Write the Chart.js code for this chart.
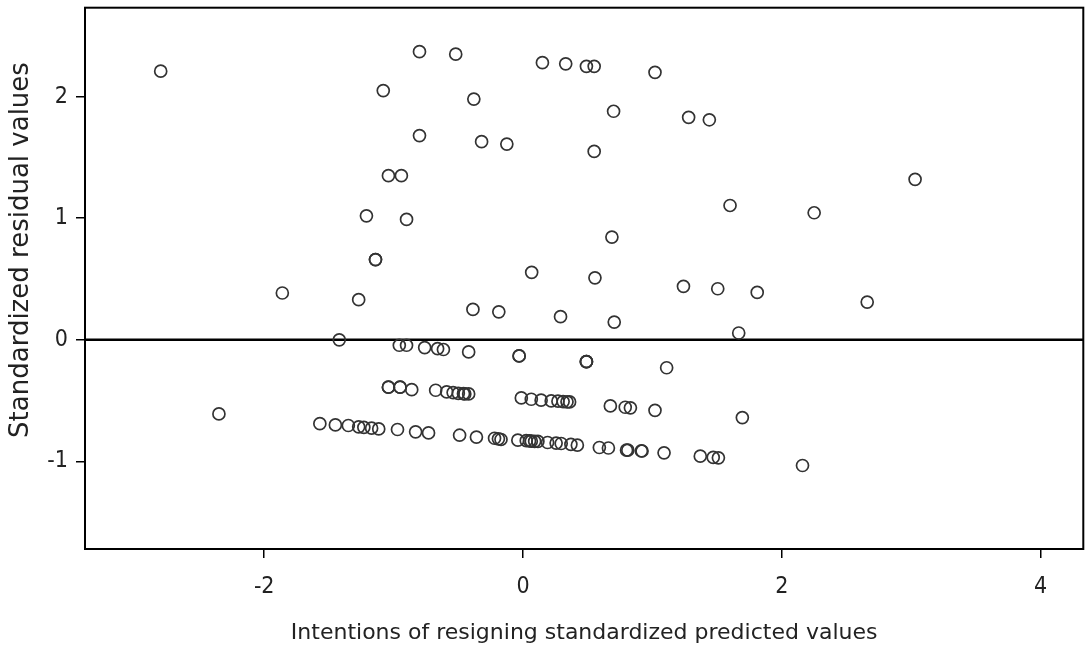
<!DOCTYPE html>
<html>
<head>
<meta charset="utf-8">
<script src="https://cdn.jsdelivr.net/npm/chart.js@4"></script>
<style>
  body { margin: 0; background: #fff; }
  #wrap { width: 1091px; height: 651px; }
</style>
</head>
<body>
<div id="wrap"><canvas id="scatter" width="1091" height="651"></canvas></div>
<script>
// Data
const predicted = [
  -2.80, -1.08, -0.80, -0.52, 0.15, 0.33, 0.49, 0.55, 1.02,
  -0.38, 0.70, 1.28, 1.44, -0.80, -0.32, -0.125, 0.55,
  -1.04, -0.94, 3.03, 1.60, 2.25, -1.21, -0.90, 0.687,
  -1.14, -1.14, 0.067, 0.556, 1.24, 1.505, 1.81, -1.86, -1.27, 2.66,
  -0.387, -0.187, 0.29, 0.705, 1.667, -1.42,
  -0.956, -0.90, -0.76, -0.66, -0.615, -0.42, -0.03, -0.03, 0.49, 0.49, 0.49, 1.11,
  -1.04, -1.04, -0.95, -0.95, -0.86,
  -0.675, -0.59, -0.54, -0.50, -0.46, -0.45, -0.42,
  -0.013, 0.064, 0.14, 0.218, 0.27, 0.31, 0.34, 0.36,
  0.675, 0.79, 0.83, 1.02, 1.695, -2.35,
  -1.57, -1.45, -1.35, -1.27, -1.23, -1.17, -1.115, -0.97, -0.83, -0.73,
  -0.49, -0.36, -0.22, -0.19, -0.17,
  -0.04, 0.025, 0.05, 0.064, 0.09, 0.115,
  0.19, 0.256, 0.295, 0.37, 0.42, 0.59, 0.66,
  0.80, 0.81, 0.915, 0.92, 1.09, 1.37, 1.47, 1.51, 2.16
];
const residual = [
  2.21, 2.05, 2.37, 2.35, 2.28, 2.27, 2.25, 2.25, 2.20,
  1.98, 1.88, 1.83, 1.81, 1.68, 1.63, 1.61, 1.55,
  1.35, 1.35, 1.32, 1.105, 1.045, 1.02, 0.99, 0.845,
  0.66, 0.66, 0.555, 0.51, 0.44, 0.42, 0.39, 0.385, 0.33, 0.31,
  0.25, 0.23, 0.19, 0.146, 0.056, 0.00,
  -0.045, -0.045, -0.064, -0.073, -0.08, -0.10, -0.133, -0.133, -0.18, -0.18, -0.18, -0.23,
  -0.39, -0.39, -0.39, -0.39, -0.41,
  -0.415, -0.429, -0.434, -0.44, -0.443, -0.445, -0.445,
  -0.478, -0.489, -0.497, -0.503, -0.505, -0.508, -0.51, -0.511,
  -0.544, -0.555, -0.56, -0.58, -0.64, -0.61,
  -0.69, -0.70, -0.705, -0.716, -0.72, -0.727, -0.733, -0.738, -0.757, -0.766,
  -0.785, -0.80, -0.81, -0.815, -0.82,
  -0.826, -0.83, -0.832, -0.834, -0.835, -0.836,
  -0.845, -0.85, -0.853, -0.86, -0.867, -0.886, -0.89,
  -0.908, -0.908, -0.914, -0.915, -0.93, -0.957, -0.968, -0.971, -1.034
];
const xTicks = [-2, 0, 2, 4];
const yTicks = [-1, 0, 1, 2];
const xRange = [-3.385, 4.33];
const yRange = [-1.721, 2.732];
const refLineY = 0;
const xTitle = "Intentions of resigning standardized predicted values";
const yTitle = "Standardized residual values";

const points = predicted.map((x, i) => ({ x: x, y: residual[i] }));

const tickFont = { family: "'Liberation Sans Narrow', 'DejaVu Sans Condensed', sans-serif", size: 23 };

// frame around the plot area + the rotated y title
const frame = {
  id: "frame",
  afterDraw(chart) {
    const a = chart.chartArea;
    const ctx = chart.ctx;
    ctx.save();
    ctx.strokeStyle = "#000";
    ctx.lineWidth = 2;
    ctx.strokeRect(a.left, a.top, a.right - a.left, a.bottom - a.top);

    ctx.translate(21, 250);
    ctx.rotate(-Math.PI / 2);
    ctx.fillStyle = "#222";
    ctx.font = "26px 'DejaVu Sans'";
    ctx.textAlign = "center";
    ctx.textBaseline = "middle";
    ctx.fillText(yTitle, 0, 0);
    ctx.restore();
  }
};

new Chart(document.getElementById("scatter").getContext("2d"), {
  type: "scatter",
  data: {
    datasets: [
      {
        type: "line",
        data: xRange.map(x => ({ x: x, y: refLineY })),
        borderColor: "#000",
        borderWidth: 2.5,
        pointRadius: 0,
        order: 1
      },
      {
        data: points,
        pointRadius: 6,
        pointBorderWidth: 1.7,
        pointBorderColor: "#333",
        pointBackgroundColor: "rgba(0,0,0,0)",
        order: 0
      }
    ]
  },
  options: {
    responsive: false,
    animation: false,
    layout: { padding: { top: 7, right: -4, left: 0, bottom: 0 } },
    plugins: { legend: { display: false }, tooltip: { enabled: false } },
    scales: {
      x: {
        type: "linear",
        min: xRange[0],
        max: xRange[1],
        afterBuildTicks: s => { s.ticks = xTicks.map(v => ({ value: v })); },
        afterFit: s => { s.height = 102; s.paddingLeft = 0; s.paddingRight = 0; },
        grid: { drawOnChartArea: false, drawTicks: true, tickLength: 9, color: "#000", lineWidth: 1.5 },
        border: { display: false },
        ticks: { color: "#222", font: tickFont, padding: 15 },
        title: { display: true, text: xTitle, color: "#222", font: { family: "DejaVu Sans", size: 22 }, padding: { top: 4, bottom: 5 } }
      },
      y: {
        type: "linear",
        min: yRange[0],
        max: yRange[1],
        afterBuildTicks: s => { s.ticks = yTicks.map(v => ({ value: v })); },
        afterFit: s => { s.width = 85; s.paddingTop = 0; s.paddingBottom = 0; },
        grid: { drawOnChartArea: false, drawTicks: true, tickLength: 9, color: "#000", lineWidth: 1.5 },
        border: { display: false },
        ticks: { color: "#222", font: tickFont, padding: 8 }
      }
    }
  },
  plugins: [frame]
});
</script>
</body>
</html>
